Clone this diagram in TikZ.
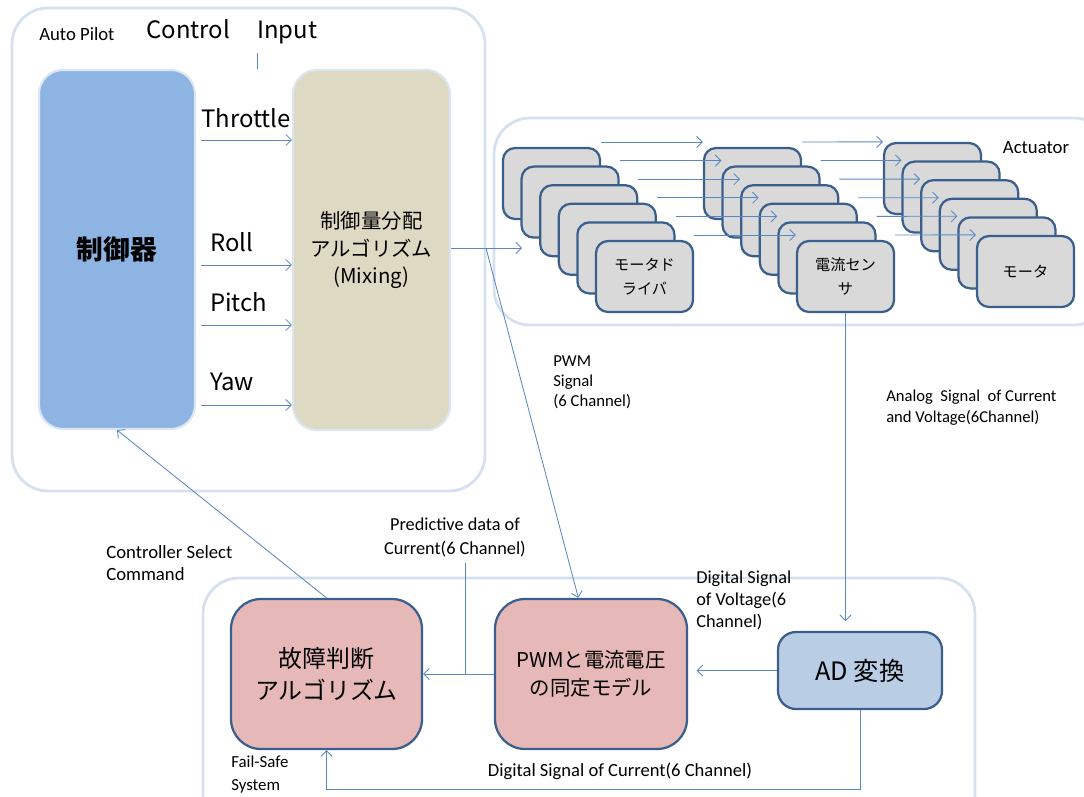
\documentclass[tikz,border=0pt]{standalone}
\usepackage{fontspec}
\setmainfont{Carlito}
\newfontfamily\jpfont{Noto Sans CJK JP}
\usetikzlibrary{arrows.meta,positioning,calc}
\definecolor{panelc}{HTML}{D6E1F0}
\definecolor{haloc}{HTML}{DCE6F2}
\definecolor{ctrlc}{HTML}{8EB4E3}
\definecolor{mixc}{HTML}{DDD9C3}
\definecolor{darkc}{HTML}{3B5F8D}
\definecolor{grayc}{HTML}{D9D9D9}
\definecolor{pinkc}{HTML}{E6B9B8}
\definecolor{adc}{HTML}{B9CDE5}
\definecolor{linec}{HTML}{5A87C2}
\newcommand{\upx}{0.025cm}
\tikzset{
    panel/.style={
    rectangle,rounded corners=0.9cm,draw=panelc,line width=2pt
    },
    ctrlbox/.style={
    rectangle,rounded corners=0.6cm,draw=haloc,line width=1.5pt,align=center
    },
    actbox/.style={
    rectangle,rounded corners=0.3cm,draw=darkc,line width=1.6pt,fill=grayc,
    minimum width=97*\upx,minimum height=71*\upx,inner sep=0pt,align=center,
    font=\jpfont\fontsize{10.8}{17}\selectfont
    },
    fsbox/.style={
    rectangle,rounded corners=0.75cm,draw=darkc,line width=1.6pt,fill=pinkc,
    minimum width=191*\upx,minimum height=150*\upx,align=center
    },
    small/.style={
    font=\fontsize{13.3}{15.6}\selectfont,inner sep=0pt,align=left
    },
    big/.style={
    font=\jpfont\fontsize{17}{20}\selectfont,inner sep=0pt
    },
    flow/.style={
    color=linec,line width=0.6pt
    },
}
\begin{document}
\begin{tikzpicture}[x=\upx, y=-\upx, >={Straight Barb[length=4pt,width=8pt]}]
   \useasboundingbox (0,0) rectangle (1084,796);

   %panels
   \node[panel,minimum width=473*\upx,minimum height=483*\upx] (autopilot) at (248.5,249.5) {};
   \node[panel,minimum width=616*\upx,minimum height=207*\upx] (actuator) at (802,221.5) {};
   \node[panel,minimum width=772*\upx,minimum height=252*\upx] (failsafe) at (589,704) {};

   %auto pilot
   \node[small,anchor=west] (aplbl) at (39,34) {Auto Pilot};
   \node[big,anchor=west] (ctlin) at (146,32) {Control\hspace{1.15em}Input};
   \node[ctrlbox,fill=ctrlc,minimum width=156*\upx,minimum height=359*\upx,
         font=\jpfont\bfseries\fontsize{19}{24}\selectfont] (ctrl) at (117,249.5) {制御器};
   \node[ctrlbox,fill=mixc,minimum width=157*\upx,minimum height=360*\upx,
         font=\jpfont\fontsize{14.5}{19.5}\selectfont] (mix) at (371.5,250) {制御量分配\\アルゴリズム\\(Mixing)};
   \node[big,anchor=west] (thr) at (201,118) {Throttle};
   \node[big,anchor=west] (roll) at (210,242) {Roll};
   \node[big,anchor=west] (pitch) at (210,302) {Pitch};
   \node[big,anchor=west] (yaw) at (210,382) {Yaw};

   %actuator
   \node[small] (actlbl) at (1036,148) {Actuator};
   \foreach \i in {0,...,4}
     \node[actbox] (md\i) at (551.5+18.6*\i,183.5+18.6*\i) {};
   \node[actbox] (md5) at (644.5,276.5) {モータド\\ライバ};
   \foreach \i in {0,...,4}
     \node[actbox] (cs\i) at (752.5+18.6*\i,183.5+18.6*\i) {};
   \node[actbox] (cs5) at (845.5,276.5) {電流セン\\サ};
   \foreach \i in {0,...,4}
     \node[actbox] (mo\i) at (932.5+18.6*\i,178.5+18.6*\i) {};
   \node[actbox] (mo5) at (1025.5,271.5) {モータ};

   %fail-safe
   \node[fsbox,font=\jpfont\fontsize{17}{23}\selectfont] (fault) at (326.5,674) {故障判断\\アルゴリズム};
   \node[fsbox,minimum width=192*\upx,font=\jpfont\fontsize{14.5}{19.5}\selectfont] (model) at (591,674) {PWMと電流電圧\\の同定モデル};
   \node[fsbox,fill=adc,rounded corners=0.45cm,minimum width=164*\upx,minimum height=77*\upx,
         font=\jpfont\fontsize{18}{22}\selectfont] (ad) at (860,670.5) {AD 変換};
   \node[small,font=\fontsize{12}{16.4}\selectfont,anchor=west] (fslbl) at (231,774.5) {Fail-Safe\\System};

   %signal labels
   \node[small,font=\fontsize{11.9}{14.2}\selectfont,anchor=west] (pwmlbl) at (553,382) {PWM\\Signal\\(6 Channel)};
   \node[small,font=\fontsize{11.8}{15}\selectfont,anchor=west] (anlbl) at (886,407.5) {Analog\ \ Signal\ \ of Current\\and Voltage(6Channel)};
   \node[small,align=center,font=\fontsize{13}{17}\selectfont] (predlbl) at (455,537) {Predictive data of\\Current(6 Channel)};
   \node[small,anchor=west] (sellbl) at (106,563) {Controller Select\\Command};
   \node[small,font=\fontsize{13}{15.6}\selectfont,anchor=west] (dvlbl) at (696,600) {Digital Signal\\of Voltage(6\\Channel)};
   \node[small,font=\fontsize{13.2}{15.6}\selectfont] (dclbl) at (620,771) {Digital Signal of Current(6 Channel)};

   \coordinate (split) at (486,248);
   \coordinate (actin) at (522,248);
   \coordinate (predtop) at (465,563);
   \coordinate (stubtop) at (257,53);
   \coordinate (fbk) at (0,789);

  \path[flow,->]
    %control inputs
    (ctrl.east |- 0,140) edge[shorten <=3.5pt] (mix.west |- 0,140)
    (ctrl.east |- 0,265) edge[shorten <=3.5pt] (mix.west |- 0,265)
    (ctrl.east |- 0,325) edge[shorten <=3.5pt] (mix.west |- 0,325)
    (ctrl.east |- 0,405) edge[shorten <=3.5pt] (mix.west |- 0,405)
    %pwm out
    (mix.east |- actin) edge (actin)
    (split) edge ([xshift=-9pt]model.north)
    %sensing
    (cs5.south) edge[shorten >=7pt] (cs5.south |- ad.north)
    (ad.west) edge[shorten >=6pt] (ad.west -| model.east)
    (model.west) edge (fault.east)
    (fault.north) edge (ctrl.south);

  \foreach \i in {0,...,5}{
    \draw[flow,->] ([yshift=3.5pt]md\i.north east) -- ([yshift=3.5pt]cs\i.north west);
    \draw[flow,->] ([yshift=3.5pt]cs\i.north east) -- (mo\i.north west);
  }

  \draw[flow] (stubtop) -- (stubtop |- ctrl.north);
  \draw[flow] (predtop) -- (predtop |- fault.east);
  \draw[flow,->] (ad.south) -- (ad.south |- fbk) -- (fault.south |- fbk) -- (fault.south);
\end{tikzpicture}
\end{document}
